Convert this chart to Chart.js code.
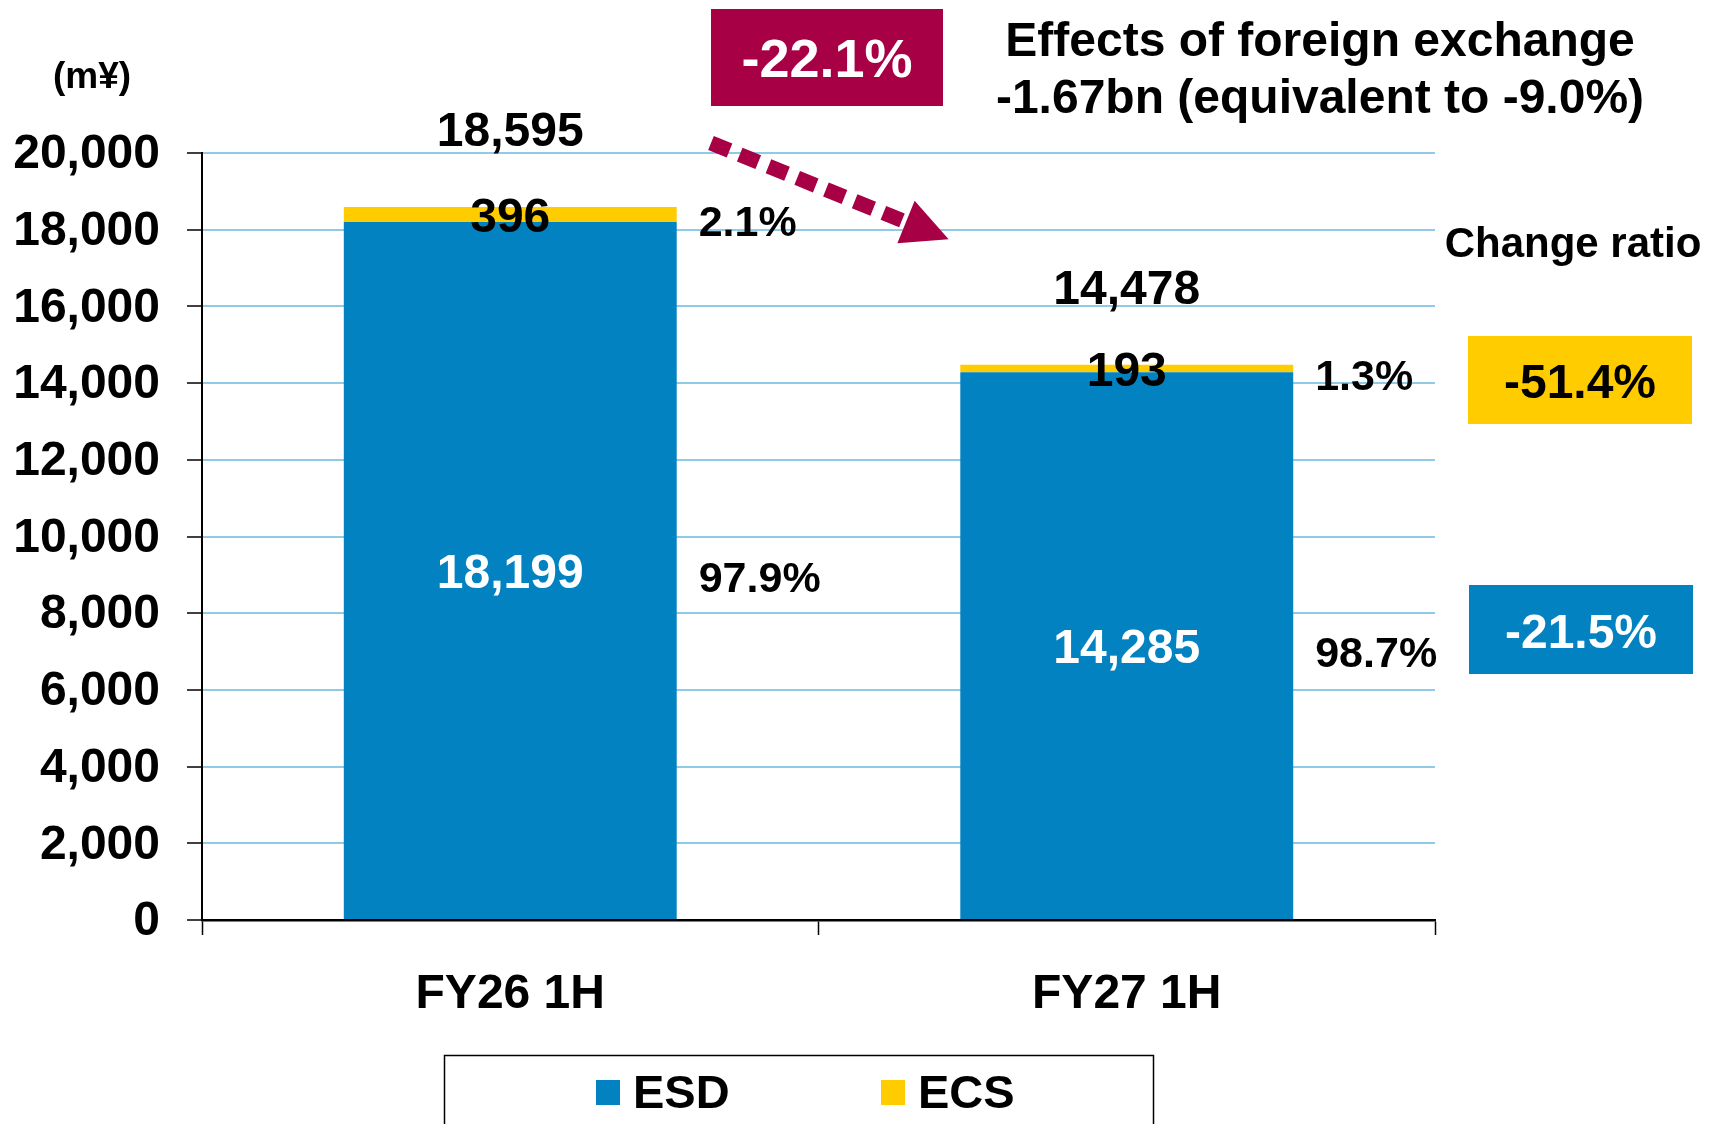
<!DOCTYPE html>
<html><head><meta charset="utf-8">
<script src="https://cdn.jsdelivr.net/npm/chart.js@4/dist/chart.umd.min.js"></script>
<style>html,body{margin:0;padding:0;background:#fff;overflow:hidden}</style>
</head><body>
<canvas id="c" width="1718" height="1124" style="width:1718px;height:1124px;display:block"></canvas>
<script>
// ---- data ----
const categories = ['FY26 1H', 'FY27 1H'];
const seriesNames = ['ESD', 'ECS'];
const esdValues = [18199, 14285];
const ecsValues = [396, 193];
const totalValues = [18595, 14478];
const esdShare = ['97.9%', '98.7%'];
const ecsShare = ['2.1%', '1.3%'];
const yMin = 0, yMax = 20000, yStep = 2000;
const unitLabel = '(m¥)';
const totalChange = '-22.1%';
const fxNote = ['Effects of foreign exchange', '-1.67bn (equivalent to -9.0%)'];
const changeRatioTitle = 'Change ratio';
const esdChange = '-21.5%';
const ecsChange = '-51.4%';

// ---- styles ----
const FONT = "'Liberation Sans', Arial, sans-serif";
const ESD_COLOR = '#0282c1';
const ECS_COLOR = '#ffcc00';
const ACCENT = '#a80044';
const GRID = '#8fcbe9';
const fmt = v => Number(v).toLocaleString('en-US');
const bold = px => 'bold ' + px + 'px ' + FONT;

const labelPlugin = {
  id: 'labels',
  afterDatasetsDraw(chart) {
    const ctx = chart.ctx;
    const esdMeta = chart.getDatasetMeta(0);
    const ecsMeta = chart.getDatasetMeta(1);
    ctx.save();
    ctx.textBaseline = 'middle';
    categories.forEach((c, i) => {
      const e = esdMeta.data[i], s = ecsMeta.data[i];
      const right = e.x + e.width / 2;
      ctx.font = bold(48); ctx.textAlign = 'center'; ctx.fillStyle = '#fff';
      ctx.fillText(fmt(esdValues[i]), e.x, (e.y + e.base) / 2 + 4);
      ctx.fillStyle = '#000';
      ctx.fillText(fmt(ecsValues[i]), s.x, (s.y + s.base) / 2 + 4);
      ctx.fillText(fmt(totalValues[i]), s.x, s.y - 74);
      ctx.font = bold(43); ctx.textAlign = 'left';
      ctx.fillText(ecsShare[i], right + 22, (s.y + s.base) / 2 + 10);
      ctx.fillText(esdShare[i], right + 22, (e.y + e.base) / 2 + 10);
    });
    ctx.restore();
  },
  afterDraw(chart) {
    const ctx = chart.ctx;
    ctx.save();
    ctx.textBaseline = 'middle';
    ctx.font = bold(37); ctx.textAlign = 'center'; ctx.fillStyle = '#000';
    ctx.fillText(unitLabel, 92, 78);
    ctx.fillStyle = ACCENT; ctx.fillRect(711, 9, 232, 97);
    ctx.fillStyle = '#fff'; ctx.font = bold(54);
    ctx.fillText(totalChange, 827, 62);
    ctx.fillStyle = '#000'; ctx.font = bold(48);
    ctx.fillText(fxNote[0], 1320, 43);
    ctx.fillText(fxNote[1], 1320, 100);
    // dotted arrow
    const x0 = 711, y0 = 143, x1 = 906, y1 = 222;
    const ang = Math.atan2(y1 - y0, x1 - x0);
    ctx.strokeStyle = ACCENT; ctx.lineWidth = 15; ctx.lineCap = 'butt';
    ctx.setLineDash([20, 11]);
    ctx.beginPath(); ctx.moveTo(x0, y0); ctx.lineTo(x1, y1); ctx.stroke();
    ctx.setLineDash([]);
    const hl = 46, hw = 23;
    const tx = x1 + Math.cos(ang) * hl, ty = y1 + Math.sin(ang) * hl;
    ctx.fillStyle = ACCENT;
    ctx.beginPath();
    ctx.moveTo(tx, ty);
    ctx.lineTo(x1 - Math.sin(ang) * hw, y1 + Math.cos(ang) * hw);
    ctx.lineTo(x1 + Math.sin(ang) * hw, y1 - Math.cos(ang) * hw);
    ctx.closePath(); ctx.fill();
    // change ratio
    ctx.fillStyle = '#000'; ctx.font = bold(42);
    ctx.fillText(changeRatioTitle, 1573, 245);
    ctx.fillStyle = ECS_COLOR; ctx.fillRect(1468, 336, 224, 88);
    ctx.fillStyle = '#000'; ctx.font = bold(48);
    ctx.fillText(ecsChange, 1580, 385);
    ctx.fillStyle = ESD_COLOR; ctx.fillRect(1469, 585, 224, 89);
    ctx.fillStyle = '#fff';
    ctx.fillText(esdChange, 1581, 635);
    // legend
    ctx.strokeStyle = '#000'; ctx.lineWidth = 1.5;
    ctx.strokeRect(444.5, 1055.5, 709, 100);
    const items = [{x: 596, tx: 633}, {x: 881, tx: 918}];
    chart.data.datasets.forEach((ds, i) => {
      ctx.fillStyle = ds.backgroundColor;
      ctx.fillRect(items[i].x, 1080, 24, 25);
      ctx.fillStyle = '#000'; ctx.font = bold(47); ctx.textAlign = 'left';
      ctx.fillText(ds.label, items[i].tx, 1095);
    });
    ctx.restore();
  }
};

new Chart(document.getElementById('c'), {
  type: 'bar',
  data: {
    labels: categories,
    datasets: [
      { label: seriesNames[0], data: esdValues, backgroundColor: ESD_COLOR, borderWidth: 0 },
      { label: seriesNames[1], data: ecsValues, backgroundColor: ECS_COLOR, borderWidth: 0 }
    ]
  },
  options: {
    responsive: false,
    devicePixelRatio: 1,
    animation: false,
    events: [],
    layout: { padding: { left: 0, top: 153, right: 283, bottom: 0 } },
    plugins: { legend: { display: false }, tooltip: { enabled: false }, title: { display: false } },
    datasets: { bar: { categoryPercentage: 1, barPercentage: 0.54 } },
    scales: {
      x: {
        stacked: true,
        offset: true,
        afterFit: s => { s.height = 204; },
        grid: { display: true, drawOnChartArea: false, drawTicks: true, tickLength: 15, tickColor: '#000', tickWidth: 1.5, offset: true },
        border: { display: true, color: '#000', width: 2.5 },
        ticks: { color: '#000', font: { family: FONT, size: 48, weight: 'bold' }, padding: 31, maxRotation: 0 }
      },
      y: {
        stacked: true,
        min: yMin, max: yMax,
        afterFit: s => { s.width = 202; },
        grid: {
          color: c => (c.tick && c.tick.value === 0) ? '#000' : GRID,
          lineWidth: 2, tickLength: 15, tickColor: '#000', tickWidth: 1.5
        },
        border: { display: true, color: '#000', width: 2 },
        ticks: { stepSize: yStep, color: '#000', padding: 27, labelOffset: 2, font: { family: FONT, size: 48, weight: 'bold' }, callback: v => fmt(v) }
      }
    }
  },
  plugins: [labelPlugin]
});
</script>
</body></html>
